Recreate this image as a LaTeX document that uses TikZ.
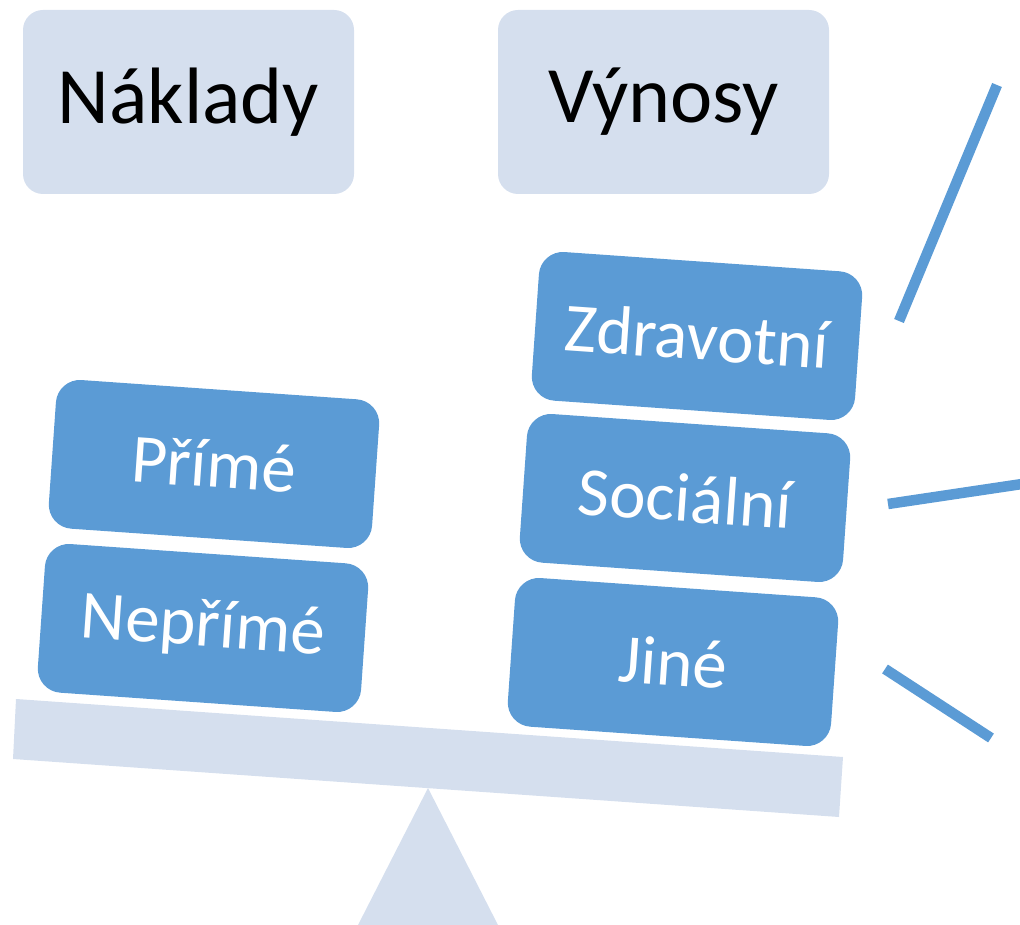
\documentclass[tikz,border=0pt]{standalone}
\usepackage{fontspec}
\setmainfont{Carlito}
\definecolor{itemblue}{HTML}{5B9BD5}
\definecolor{paleblue}{HTML}{D5DFEE}

\begin{document}
\begin{tikzpicture}[x=1pt, y=1pt,
            header/.style={rectangle, rounded corners=20pt, fill=paleblue, minimum width=331pt, minimum height=184pt, inner sep=0pt, font=\fontsize{80}{82}\selectfont},
            item/.style={rectangle, rounded corners=24pt, fill=itemblue, text=white, minimum width=324pt, minimum height=149pt, inner sep=0pt, rotate=-4, font=\fontsize{69}{71}\selectfont},
            ray/.style={draw=itemblue, line width=10.5pt}
        ]
            \useasboundingbox (0,0) rectangle (1020,-925);

            % Scale
            \fill[paleblue] (16,-699) -- (843,-757) -- (839,-817) -- (13,-759) -- cycle;
            \fill[paleblue] (428,-788) -- (498,-925) -- (358,-925) -- cycle;

            % Headers
            \node[header] (costs) at (188.5,-102) {Náklady};
            \node[header] (returns) at (663.5,-102) {Výnosy};

            % Left pan
            \node[item] (direct) at (214,-464) {Přímé};
            \node[item] (indirect) at (203,-628) {Nepřímé};

            % Right pan
            \node[item] (health) at (697,-336) {Zdravotní};
            \node[item] (social) at (685,-498) {Sociální};
            \node[item] (other) at (673,-662) {Jiné};

            % Rays
            \coordinate (ray1a) at (899,-321);
            \coordinate (ray1b) at (997,-85);
            \coordinate (ray2a) at (888,-504);
            \coordinate (ray2b) at (1022,-484);
            \coordinate (ray3a) at (885,-669);
            \coordinate (ray3b) at (991,-738);
            \draw[ray] (ray1a) -- (ray1b);
            \draw[ray] (ray2a) -- (ray2b);
            \draw[ray] (ray3a) -- (ray3b);
        \end{tikzpicture}
\end{document}
